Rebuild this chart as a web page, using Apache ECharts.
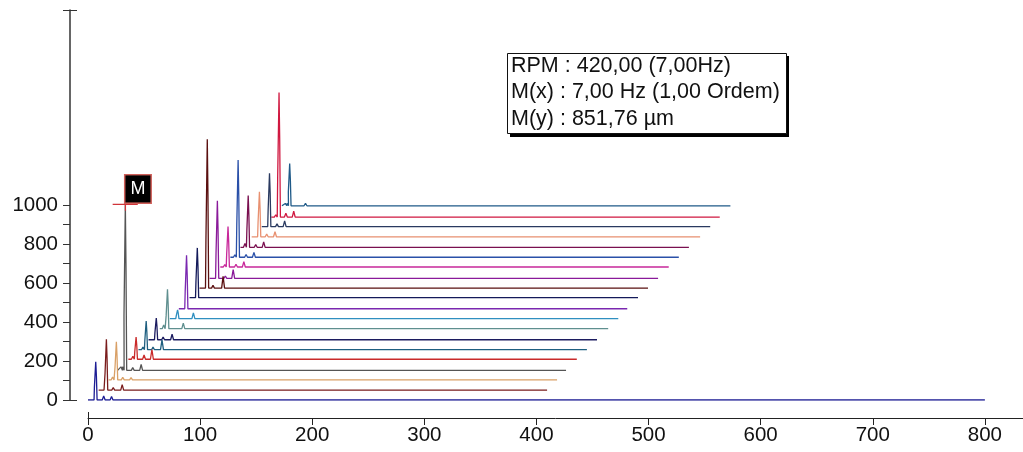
<!DOCTYPE html>
<html>
<head>
<meta charset="utf-8">
<style>html,body{margin:0;padding:0;background:#fff}#c{width:1023px;height:452px;filter:blur(0.3px)}</style>
<script src="https://cdn.jsdelivr.net/npm/echarts@6/dist/echarts.min.js"></script>
</head>
<body>
<div id="c"></div>
<script>
const xTicks = [0,100,200,300,400,500,600,700,800];
const yTickLabels = [0,200,400,600,800,1000];
const yTicks = [0,100,200,300,400,500,600,700,800,900,1000,2000];
const traceBases = [0,51,103,152,209,258,309,366,417,468,525,574,624,682,732,783,837,889,938,996];
const traceStarts = [0,9.5,18.4,26.4,36,45,54,64,73,81,90.6,99.5,108.5,118,127,136,146,155,163.5,173];
const traceEnds = [800,409.5,418.4,426.4,436,445,454,464,473,481,490.6,499.5,508.5,518,527,536,546,555,563.5,573];
const mainPeaks = [196,260,196,852,114,147,111,202,45,274,255,763,398,207,499,265,231,274,639,217];
const traceColors = ['#1c1c94','#7a1c1c','#d9a066','#555555','#c92a2a','#1f5f80','#1c1c60','#5f8f8f','#2f8fc0','#7a28b0','#141a5a','#5a1010','#8a1a9a','#c8289a','#2a50a8','#7a1050','#e89070','#2a3a60','#d01840','#1f5a88'];
const sidePeaks = [
  [[14,20],[21,18],[29,10]],
  [[3.5,10],[13,12],[21,28],[29,10]],
  [[3.5,15],[12.6,14],[20,12]],
  [[3,18],[4.5,18],[13.5,14],[21,30]],
  [[4,15],[14,22],[21,50],[29,10],[36,10]],
  [[4,14],[13,14],[21,50],[28,10],[35,10]],
  [[4,10],[13,14],[21,28],[28.5,10],[35,10]],
  [[3.5,18],[21,28],[28.5,10],[35,10]],
  [[4,10],[14,10],[21,30],[27.7,10],[48,10]],
  [[4,10],[14,8],[20,10],[28,10],[50,8]],
  [[4,10],[13,10],[20.7,10],[29,10]],
  [[4,10],[12,14],[21,60],[29,10]],
  [[4,10],[14,12],[21,45],[29,10]],
  [[4,12],[14,14],[21,28],[35,8]],
  [[4,12],[14,14],[21,25],[35.7,8],[49,8],[64,8]],
  [[4,20],[13.6,14],[20.7,28],[48.6,8]],
  [[4,10],[13.4,14],[20.8,26],[35,8],[63,8]],
  [[4,10],[13.6,14],[20.4,30],[34,8],[63,8]],
  [[4,12],[13,20],[20,30],[48,8]],
  [[3,12],[4.5,12],[14,10],[21,12],[28,10],[49,8]]
];
const cursorX = [22,33.4,44.4];
const cursorY = [1003];
const cursorV = [1040,970];
const markerLabel = 'M';
const infoLines = ['RPM : 420,00 (7,00Hz)','M(x) : 7,00 Hz (1,00 Ordem)','M(y) : 851,76 µm'];

function traceData(i){
  const s = traceStarts[i], b = traceBases[i], h = mainPeaks[i];
  const pts = [[s,b]];
  const items = sidePeaks[i].map(p=>({d:p[0],h:p[1],main:false})).concat([{d:7,h:h,main:true}]).sort((a,c)=>a.d-c.d);
  items.forEach(p=>{
    if(p.main){
      pts.push([s+p.d-1.6,b],[s+p.d-1.3,b+p.h*0.33],[s+p.d-0.5,b+p.h*0.33],[s+p.d-0.1,b+p.h],[s+p.d+0.2,b+p.h],[s+p.d+0.5,b+p.h*0.62],[s+p.d+0.9,b+p.h*0.62],[s+p.d+1.1,b]);
    }else{
      pts.push([s+p.d-1.3,b],[s+p.d,b+p.h],[s+p.d+1.3,b]);
    }
  });
  pts.push([traceEnds[i],b]);
  return pts;
}
const series = traceBases.map((b,i)=>({
  name:'trace'+i,type:'line',symbol:'none',silent:true,animation:false,
  lineStyle:{color:traceColors[i],width:1.3},
  data:traceData(i),z:3
})).reverse();
const red='#d0343a';
series.push({type:'line',symbol:'none',silent:true,animation:false,z:5,lineStyle:{color:red,width:1.2},
  data:[[cursorX[0],cursorY[0]],[cursorX[2],cursorY[0]]]});
series.push({type:'line',symbol:'none',silent:true,animation:false,z:5,lineStyle:{color:red,width:1.2},
  data:[[cursorX[1],cursorV[0]],[cursorX[1],cursorV[1]]]});
series.push({type:'scatter',symbolSize:0,silent:true,animation:false,z:6,
  itemStyle:{opacity:1},
  data:[[cursorX[1],cursorY[0]]],
  label:{show:true,position:'top',distance:2,offset:[12.5,0],formatter:markerLabel,color:'#fff',opacity:1,
    fontFamily:'Liberation Sans',fontSize:18,backgroundColor:'#000',borderColor:'#d0605a',borderWidth:1.5,
    padding:[5,5,4,5]}});

const font='Liberation Sans';
const plain=v=>String(v);
const option={
  animation:false,backgroundColor:'#fff',
  grid:{left:88,right:0,top:10,bottom:52},
  xAxis:[{
    type:'value',min:0,max:834,position:'bottom',offset:18,
    splitLine:{show:false},
    axisLine:{show:true,onZero:false,lineStyle:{color:'#222',width:1}},
    axisTick:{show:true,length:7,customValues:xTicks,lineStyle:{color:'#222'}},
    axisLabel:{show:true,customValues:xTicks,formatter:plain,margin:7,color:'#111',fontFamily:font,fontSize:20.5}
  },{
    type:'value',min:0,max:834,position:'bottom',offset:18,
    splitLine:{show:false},
    axisLine:{show:false,onZero:false},
    axisTick:{show:true,inside:true,length:6,customValues:[0],lineStyle:{color:'#222'}},
    axisLabel:{show:false}
  }],
  yAxis:[{
    type:'value',min:0,max:2000,position:'left',offset:18,
    splitLine:{show:false},
    axisLine:{show:true,onZero:false,lineStyle:{color:'#333',width:1.5}},
    axisTick:{show:true,length:7,customValues:yTicks,lineStyle:{color:'#333'}},
    axisLabel:{show:true,customValues:yTickLabels,formatter:plain,margin:12,color:'#111',fontFamily:font,fontSize:20.5}
  },{
    type:'value',min:0,max:2000,position:'left',offset:18,
    splitLine:{show:false},
    axisLine:{show:false,onZero:false},
    axisTick:{show:true,inside:true,length:7,customValues:[0,2000],lineStyle:{color:'#333'}},
    axisLabel:{show:false}
  }],
  series:series,
  graphic:[
    {type:'rect',shape:{x:510,y:56,width:279,height:81},style:{fill:'#000'},z:9},
    {type:'rect',shape:{x:507.5,y:53.5,width:279,height:80},style:{fill:'#fff',stroke:'#111',lineWidth:1},z:10},
    {type:'text',x:511,y:55,style:{text:infoLines[0],fill:'#111',font:'21.5px "Liberation Sans"'},z:11},
    {type:'text',x:511,y:81,style:{text:infoLines[1],fill:'#111',font:'21.5px "Liberation Sans"'},z:11},
    {type:'text',x:511,y:108,style:{text:infoLines[2],fill:'#111',font:'21.5px "Liberation Sans"'},z:11}
  ]
};
const chart=echarts.init(document.getElementById('c'),null,{renderer:'canvas'});
chart.setOption(option);
</script>
</body>
</html>
